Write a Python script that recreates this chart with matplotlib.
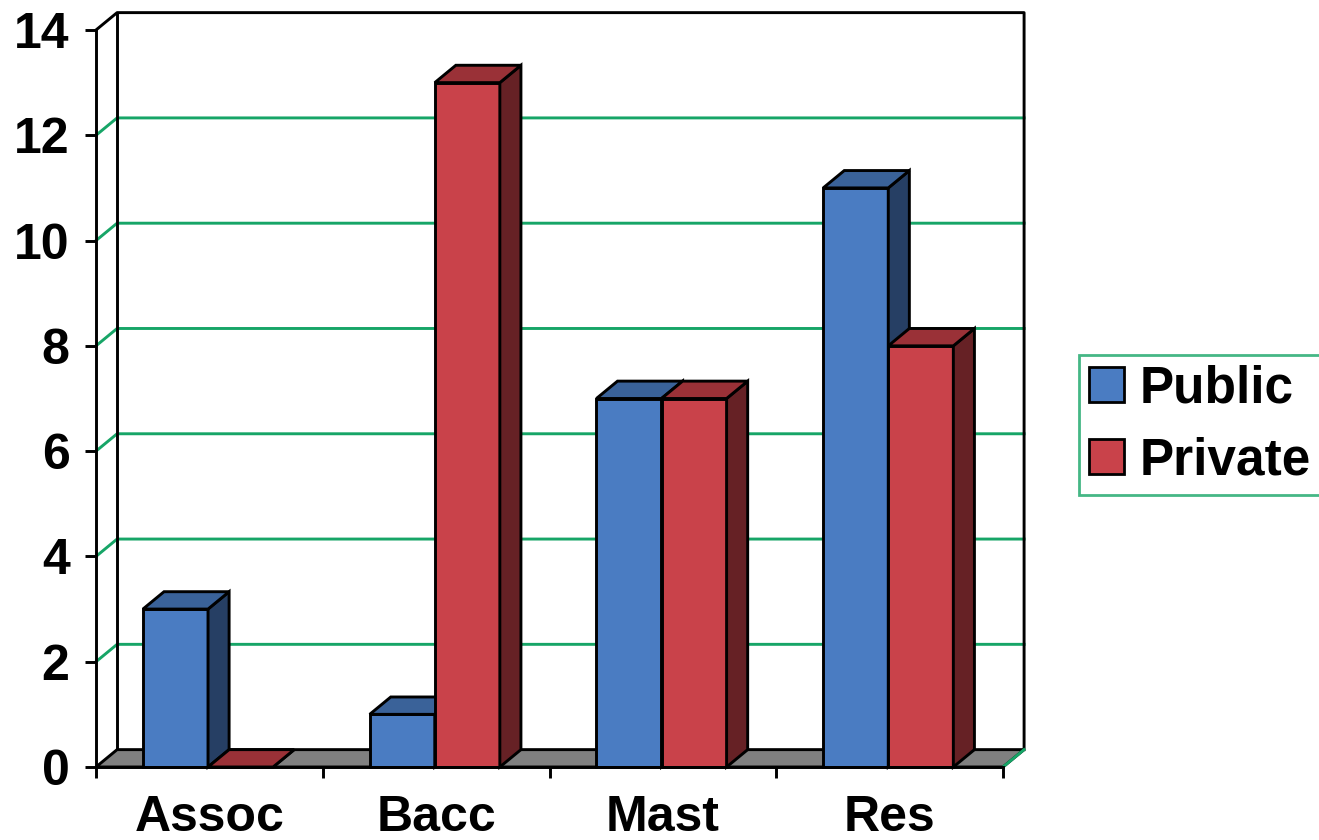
import numpy as np
import matplotlib
matplotlib.use('Agg')
import matplotlib.pyplot as plt
from matplotlib.patches import Polygon, Patch

plt.rcParams['font.family'] = ['Liberation Sans', 'DejaVu Sans']
plt.rcParams['font.weight'] = 'bold'

categories = ['Assoc', 'Bacc', 'Mast', 'Res']
public = [3, 1, 7, 11]
private = [0, 13, 7, 8]

face_col = {'Public': '#4a7cc2', 'Private': '#c9424a'}
side_col = {'Public': '#263f64', 'Private': '#662125'}
top_col = {'Public': '#3a6299', 'Private': '#9a3137'}
grid_col = '#17a567'

ymax = 14
ddx = 0.093   # depth offset along x (category units)
ddy = 0.33    # depth offset along y (value units)
bar_w = 0.287
gap = 0.207
lw = 2.1

fig = plt.figure(figsize=(13.19, 8.4), dpi=100)
ax = fig.add_axes([96 / 1319, 73 / 840, 907 / 1319, 737 / 840])
ax.set_xlim(0, len(categories))
ax.set_ylim(0, ymax)
n = len(categories)

# back wall, grid and floor
for yv in range(2, ymax, 2):
    ax.plot([0, ddx, n + ddx], [yv, yv + ddy, yv + ddy],
            color=grid_col, lw=2.1, clip_on=False, zorder=1)
ax.plot([0, ddx, n + ddx, n + ddx], [ymax, ymax + ddy, ymax + ddy, ddy],
        color='black', lw=lw, clip_on=False, zorder=1)
ax.plot([ddx, ddx], [ddy, ymax + ddy], color='black', lw=lw, clip_on=False, zorder=1)

floor = Polygon([(0, 0), (n, 0), (n + ddx, ddy), (ddx, ddy)],
                closed=True, facecolor='#808080', edgecolor='black', lw=lw,
                clip_on=False, zorder=2)
ax.add_patch(floor)
ax.plot([n, n + ddx], [0, ddy], color=grid_col, lw=2.1, clip_on=False, zorder=2)

# bars with side and top faces
x = np.arange(n)
z = 3
for i in range(n):
    for name, vals, off in (('Public', public, 0), ('Private', private, 1)):
        x0 = x[i] + gap + off * bar_w
        h = vals[i]
        ax.bar(x0, h, width=bar_w, align='edge', color=face_col[name],
               edgecolor='black', lw=lw, zorder=z, clip_on=False)
        side = Polygon([(x0 + bar_w, 0), (x0 + bar_w + ddx, ddy),
                        (x0 + bar_w + ddx, h + ddy), (x0 + bar_w, h)],
                       closed=True, facecolor=side_col[name], edgecolor='black',
                       lw=lw, clip_on=False, zorder=z)
        top = Polygon([(x0, h), (x0 + bar_w, h), (x0 + bar_w + ddx, h + ddy),
                       (x0 + ddx, h + ddy)],
                      closed=True, facecolor=top_col[name], edgecolor='black',
                      lw=lw, clip_on=False, zorder=z)
        ax.add_patch(side)
        ax.add_patch(top)
        z += 1

# axes, ticks and labels
for s in ('top', 'right'):
    ax.spines[s].set_visible(False)
for s in ('left', 'bottom'):
    ax.spines[s].set_linewidth(lw)
    ax.spines[s].set_zorder(20)

ax.set_yticks(range(0, ymax + 1, 2))
ax.tick_params(axis='y', length=8, width=lw, pad=11, labelsize=36)
ax.set_xticks(x + 0.5)
ax.set_xticklabels(categories)
ax.set_xticks(range(n + 1), minor=True)
ax.tick_params(axis='x', which='major', length=0, pad=20, labelsize=36)
ax.tick_params(axis='x', which='minor', length=8, width=lw)

handles = [Patch(facecolor=face_col['Public'], edgecolor='black', lw=2, label='Public'),
           Patch(facecolor=face_col['Private'], edgecolor='black', lw=2, label='Private')]
leg = ax.legend(handles=handles, loc='center left', bbox_to_anchor=(1.084, 0.464),
                fontsize=37, frameon=True, fancybox=False, handlelength=0.68,
                handleheight=0.68, handletextpad=0.3, borderpad=0.19,
                labelspacing=0.45, borderaxespad=0)
leg.get_frame().set_edgecolor(grid_col)
leg.get_frame().set_linewidth(2)

fig.savefig('out.png', dpi=100)
